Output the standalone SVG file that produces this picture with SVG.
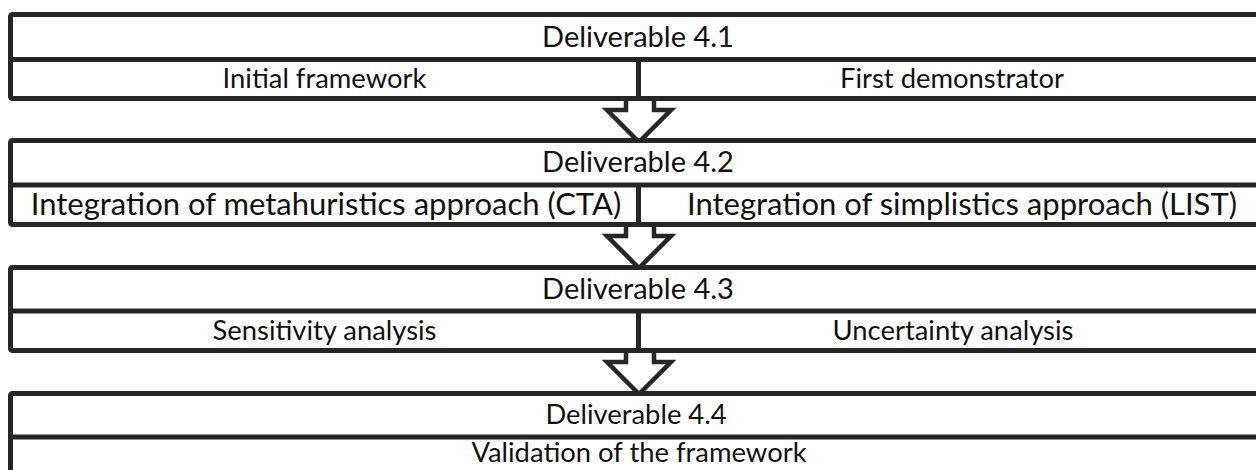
<svg xmlns="http://www.w3.org/2000/svg" width="1256" height="470" viewBox="0 0 1256 470">
  <style>
    .frame { fill: #ffffff; stroke: #262626; stroke-width: 5; }
    .rule { fill: none; stroke: #262626; stroke-width: 5; }
    .arrow { fill: #ffffff; stroke: #262626; stroke-width: 4.5; stroke-linejoin: miter; }
    .lbl { font-family: Lato, "Liberation Sans", sans-serif; font-size: 27.4px; fill: #111111; text-anchor: middle; }
    .head { font-size: 29px; }
    .wide { font-size: 31px; }
  </style>

  <!-- connectors between deliverables -->
  <g id="connectors">
    <polygon class="arrow" points="626,98 626,110 607,110 639,142 671,110 654,110 654,98"/>
    <polygon class="arrow" points="626,224 626,236 607,236 639,268 671,236 654,236 654,224"/>
    <polygon class="arrow" points="626,350 626,362 607,362 639,394 671,362 654,362 654,350"/>
  </g>

  <g id="d41">
    <rect class="frame" x="10.5" y="14.5" width="1256" height="84" rx="2"/>
    <line class="rule" x1="10.5" y1="59.5" x2="1266.5" y2="59.5"/>
    <line class="rule" x1="638.5" y1="59.5" x2="638.5" y2="98.5"/>
    <text class="lbl head" x="638" y="46.5">Deliverable 4.1</text>
    <text class="lbl" x="324.5" y="88">Initial framework</text>
    <text class="lbl" x="952" y="88">First demonstrator</text>
  </g>

  <g id="d42">
    <rect class="frame" x="10.5" y="140.5" width="1256" height="84" rx="2"/>
    <line class="rule" x1="10.5" y1="185" x2="1266.5" y2="185"/>
    <line class="rule" x1="638.5" y1="185" x2="638.5" y2="224.5"/>
    <text class="lbl head" x="638" y="172">Deliverable 4.2</text>
    <text class="lbl wide" x="326" y="215">Integration of metahuristics approach (CTA)</text>
    <text class="lbl wide" x="962" y="215">Integration of simplistics approach (LIST)</text>
  </g>

  <g id="d43">
    <rect class="frame" x="10.5" y="267.5" width="1256" height="83" rx="2"/>
    <line class="rule" x1="10.5" y1="311" x2="1266.5" y2="311"/>
    <line class="rule" x1="638.5" y1="311" x2="638.5" y2="350.5"/>
    <text class="lbl head" x="638" y="299">Deliverable 4.3</text>
    <text class="lbl" x="324.5" y="340">Sensitivity analysis</text>
    <text class="lbl" x="953" y="340">Uncertainty analysis</text>
  </g>

  <g id="d44">
    <rect class="frame" x="10.5" y="393.5" width="1256" height="84" rx="2"/>
    <line class="rule" x1="10.5" y1="437" x2="1266.5" y2="437"/>
    <text class="lbl" x="636" y="424">Deliverable 4.4</text>
    <text class="lbl" x="639" y="462">Validation of the framework</text>
  </g>
</svg>
